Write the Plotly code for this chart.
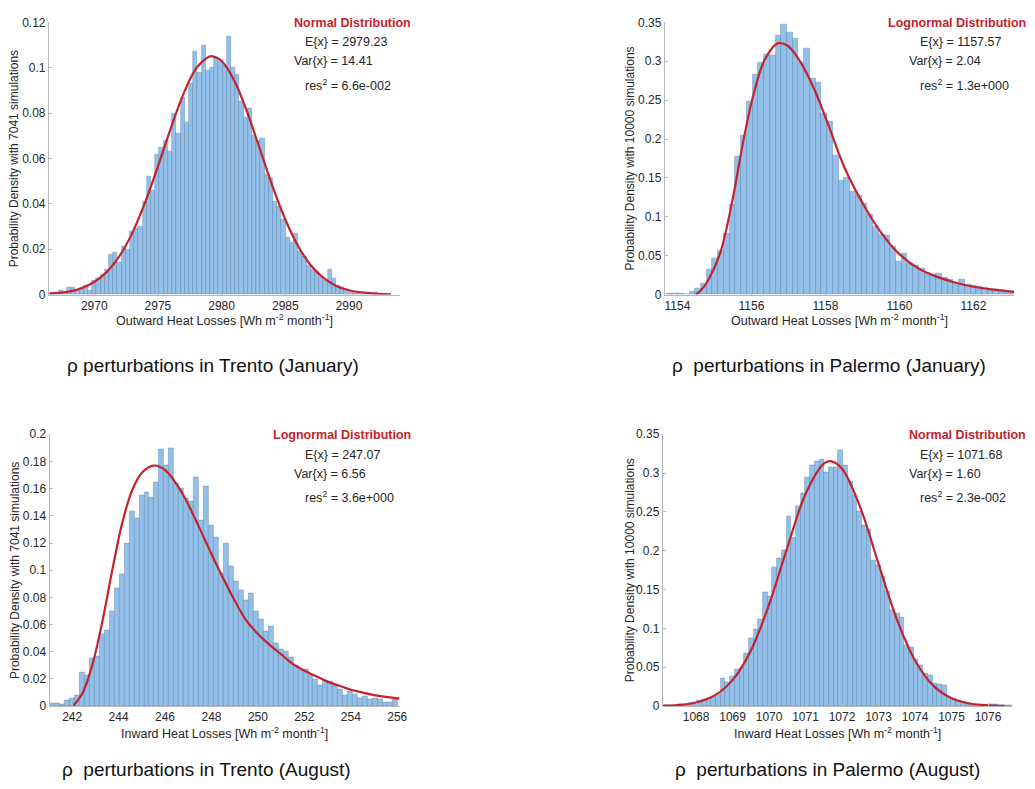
import numpy as np
import plotly.graph_objects as go

# ---------------- data ----------------
# Trento, January (outward heat losses) - histogram
tj_bin_start = 2966.70
tj_bin_width = 0.33
tj_density = [0.001, 0.001, 0.002, 0.001, 0.003, 0.003, 0.002, 0.003, 0.004, 0.002,
              0.006, 0.007, 0.009, 0.011, 0.0175, 0.0185, 0.014, 0.021, 0.020, 0.028,
              0.029, 0.030, 0.041, 0.052, 0.046, 0.062, 0.065, 0.068, 0.063, 0.080,
              0.071, 0.087, 0.076, 0.093, 0.107, 0.098, 0.110, 0.099, 0.100, 0.104,
              0.103, 0.101, 0.114, 0.100, 0.097, 0.085, 0.078, 0.082, 0.070, 0.068,
              0.069, 0.053, 0.051, 0.041, 0.039, 0.033, 0.025, 0.023, 0.027, 0.019,
              0.017, 0.013, 0.011, 0.010, 0.008, 0.006, 0.011, 0.007, 0.004, 0.003,
              0.002, 0.001, 0.0005, 0.0005, 0.0, 0.0005, 0.0, 0.001, 0.0, 0.0]
tj_fit_x = [2966.5, 2968, 2969, 2970, 2971, 2972, 2973, 2974, 2975, 2976, 2977, 2978,
            2979, 2979.23, 2980, 2981, 2982, 2983, 2984, 2985, 2986, 2987, 2988, 2989,
            2990, 2991, 2992, 2993.3]
tj_fit_y = [0.0004, 0.0013, 0.0028, 0.0055, 0.0100, 0.0171, 0.0273, 0.0407, 0.0565,
            0.0732, 0.0884, 0.0997, 0.1049, 0.1051, 0.1030, 0.0943, 0.0805, 0.0642,
            0.0477, 0.0331, 0.0214, 0.0129, 0.0073, 0.0038, 0.0019, 0.0009, 0.0004,
            0.0001]

# Palermo, January (outward heat losses)
pj_bin_start = 1153.78
pj_bin_width = 0.155
pj_density = [0.001, 0.002, 0.001, 0.000, 0.004, 0.008, 0.014, 0.032, 0.046, 0.057,
              0.078, 0.116, 0.177, 0.205, 0.249, 0.283, 0.298, 0.309, 0.307, 0.333,
              0.348, 0.337, 0.329, 0.298, 0.317, 0.278, 0.273, 0.233, 0.223, 0.179,
              0.147, 0.150, 0.132, 0.128, 0.117, 0.103, 0.088, 0.077, 0.076, 0.062,
              0.043, 0.053, 0.040, 0.038, 0.034, 0.028, 0.026, 0.027, 0.022, 0.020,
              0.014, 0.019, 0.013, 0.012, 0.010, 0.009, 0.007, 0.007, 0.005, 0.004,
              0.004]
pj_fit_x = [1154.5, 1154.65, 1154.85, 1155.16, 1155.47, 1155.78, 1156.05, 1156.36,
            1156.71, 1156.98, 1157.34, 1157.69, 1158.05, 1158.5, 1159.0, 1159.5,
            1160.0, 1160.5, 1161.0, 1161.5, 1162.0, 1162.5, 1163.1]
pj_fit_y = [0.0, 0.006, 0.020, 0.054, 0.117, 0.197, 0.256, 0.302, 0.323, 0.320, 0.298,
            0.265, 0.222, 0.165, 0.118, 0.080, 0.052, 0.034, 0.023, 0.0155, 0.010,
            0.0065, 0.0035]

# Trento, August (inward heat losses)
ta_bin_start = 241.14
ta_bin_width = 0.214
ta_density = [0.002, 0.002, 0.0015, 0.004, 0.006, 0.0077, 0.025, 0.023, 0.035, 0.037,
              0.053, 0.056, 0.070, 0.087, 0.097, 0.120, 0.143, 0.138, 0.155, 0.157,
              0.154, 0.165, 0.189, 0.177, 0.190, 0.164, 0.160, 0.153, 0.151, 0.168,
              0.137, 0.162, 0.133, 0.124, 0.098, 0.120, 0.103, 0.092, 0.085, 0.078,
              0.083, 0.070, 0.064, 0.055, 0.059, 0.046, 0.042, 0.040, 0.036, 0.030,
              0.026, 0.027, 0.023, 0.020, 0.015, 0.019, 0.018, 0.015, 0.012, 0.008,
              0.011, 0.009, 0.006, 0.007, 0.005, 0.006, 0.005, 0.003, 0.003, 0.005]
ta_fit_x = [242.03, 242.45, 242.88, 243.31, 243.74, 244.16, 244.59, 245.02, 245.52,
            246.02, 246.73, 247.44, 248.16, 248.94, 249.5, 250.0, 250.5, 251.0, 251.5,
            252.0, 252.5, 253.0, 253.5, 254.0, 254.5, 255.0, 255.5, 256.1]
ta_fit_y = [0.0, 0.0097, 0.031, 0.063, 0.101, 0.135, 0.159, 0.172, 0.177, 0.1735,
            0.157, 0.1326, 0.106, 0.0795, 0.063, 0.053, 0.045, 0.038, 0.031, 0.026,
            0.022, 0.018, 0.015, 0.012, 0.010, 0.008, 0.0068, 0.0055]

# Palermo, August (inward heat losses)
pa_bin_start = 1067.187
pa_bin_width = 0.129
pa_density = [0.0005, 0.001, 0.001, 0.002, 0.002, 0.004, 0.005, 0.007, 0.009, 0.010,
              0.013, 0.015, 0.036, 0.030, 0.038, 0.048, 0.050, 0.068, 0.087, 0.099,
              0.112, 0.147, 0.141, 0.179, 0.190, 0.201, 0.245, 0.218, 0.257, 0.274,
              0.294, 0.310, 0.315, 0.318, 0.301, 0.307, 0.307, 0.330, 0.310, 0.289,
              0.272, 0.251, 0.233, 0.228, 0.188, 0.181, 0.167, 0.148, 0.124, 0.120,
              0.114, 0.078, 0.076, 0.060, 0.052, 0.042, 0.040, 0.029, 0.028, 0.027,
              0.012, 0.010, 0.008, 0.005, 0.004, 0.002, 0.002, 0.001, 0.001, 0.002,
              0.002, 0.0005, 0.001, 0.0005]
pa_fit_x = [1067.1, 1067.5, 1068.0, 1068.5, 1069.0, 1069.5, 1070.0, 1070.5, 1071.0,
            1071.5, 1071.68, 1072.0, 1072.5, 1073.0, 1073.5, 1074.0, 1074.5, 1075.0,
            1075.5, 1076.0, 1076.45]
pa_fit_y = [0.0005, 0.0013, 0.0046, 0.0134, 0.0334, 0.0714, 0.1305, 0.2041, 0.2730,
            0.3122, 0.3154, 0.3055, 0.2557, 0.1831, 0.1120, 0.0587, 0.0263, 0.0101,
            0.0033, 0.0009, 0.0002]

# texts
dist_names = ["Normal Distribution", "Lognormal Distribution",
              "Lognormal Distribution", "Normal Distribution"]
expect_txt = ["E{x} = 2979.23", "E{x} = 1157.57", "E{x} = 247.07", "E{x} = 1071.68"]
var_txt = ["Var{x} = 14.41", "Var{x} = 2.04", "Var{x} = 6.56", "Var{x} = 1.60"]
res_txt = ["6.6e-002", "1.3e+000", "3.6e+000", "2.3e-002"]
ytitles = ["Probability Density with 7041 simulations",
           "Probability Density with 10000 simulations",
           "Probability Density with 7041 simulations",
           "Probability Density with 10000 simulations"]
xtitles = ["Outward Heat Losses [Wh m<sup>-2</sup> month<sup>-1</sup>]",
           "Outward Heat Losses [Wh m<sup>-2</sup> month<sup>-1</sup>]",
           "Inward Heat Losses [Wh m<sup>-2</sup> month<sup>-1</sup>]",
           "Inward Heat Losses [Wh m<sup>-2</sup> month<sup>-1</sup>]"]
captions = ["\u03c1 perturbations in Trento (January)",
            "\u03c1\u00a0 perturbations in Palermo (January)",
            "\u03c1\u00a0 perturbations in Trento (August)",
            "\u03c1\u00a0 perturbations in Palermo (August)"]

x_ticks = [[2970, 2975, 2980, 2985, 2990],
           [1154, 1156, 1158, 1160, 1162],
           [242, 244, 246, 248, 250, 252, 254, 256],
           [1068, 1069, 1070, 1071, 1072, 1073, 1074, 1075, 1076]]
y_ticks = [[0, 0.02, 0.04, 0.06, 0.08, 0.1, 0.12],
           [0, 0.05, 0.1, 0.15, 0.2, 0.25, 0.3, 0.35],
           [0, 0.02, 0.04, 0.06, 0.08, 0.1, 0.12, 0.14, 0.16, 0.18, 0.2],
           [0, 0.05, 0.1, 0.15, 0.2, 0.25, 0.3, 0.35]]
y_ticktext = [["0", "0.02", "0.04", "0.06", "0.08", "0.1", "0.12"],
              ["0", "0.05", "0.1", "0.15", "0.2", "0.25", "0.3", "0.35"],
              ["0", "0.02", "0.04", "0.06", "0.08", "0.1", "0.12", "0.14", "0.16", "0.18", "0.2"],
              ["0", "0.05", "0.1", "0.15", "0.2", "0.25", "0.3", "0.35"]]

# ---------------- layout geometry (pixels) ----------------
W, H = 1035, 789
FONT = "Liberation Sans, Arial, sans-serif"
BAR_FILL = "#92c0e8"
BAR_EDGE = "rgba(80,118,165,0.75)"
RED = "#c4232b"
AXIS_GREY = "#b8b8b8"
TXT = "#262626"

def fx(p):
    return p / W

def fy(p):
    return 1 - p / H

panels = [
    dict(ox=0, oy=0, xd=(49.3, 403.3), yd=(15.7, 292.7), xr=(2966.44, 2994.02), yr=(0, 0.12),
         bs=tj_bin_start, bw=tj_bin_width, dens=tj_density, fx_=tj_fit_x, fy_=tj_fit_y,
         cap=(215, 365)),
    dict(ox=620, oy=0, xd=(670, 1022), yd=(15.7, 292.7), xr=(1153.66, 1163.1), yr=(0, 0.35),
         bs=pj_bin_start, bw=pj_bin_width, dens=pj_density, fx_=pj_fit_x, fy_=pj_fit_y,
         cap=(835, 365)),
    dict(ox=0, oy=420, xd=(50, 402.7), yd=(435, 711.7), xr=(241.03, 256.1), yr=(0, 0.2),
         bs=ta_bin_start, bw=ta_bin_width, dens=ta_density, fx_=ta_fit_x, fy_=ta_fit_y,
         cap=(208, 776)),
    dict(ox=620, oy=420, xd=(668, 1020), yd=(435, 711.7), xr=(1067.09, 1076.66), yr=(0, 0.35),
         bs=pa_bin_start, bw=pa_bin_width, dens=pa_density, fx_=pa_fit_x, fy_=pa_fit_y,
         cap=(834, 776)),
]

fig = go.Figure()
annotations = []
layout_axes = {}

for i, p in enumerate(panels):
    n = i + 1
    xa = "x" if n == 1 else f"x{n}"
    ya = "y" if n == 1 else f"y{n}"
    centers = p["bs"] + p["bw"] * np.arange(len(p["dens"]))
    fig.add_trace(go.Bar(x=centers, y=p["dens"], width=p["bw"], xaxis=xa, yaxis=ya,
                         marker=dict(color=BAR_FILL, line=dict(color=BAR_EDGE, width=0.5)),
                         hoverinfo="x+y"))
    fig.add_trace(go.Scatter(x=p["fx_"], y=p["fy_"], mode="lines", xaxis=xa, yaxis=ya,
                             line=dict(color=RED, width=2.2, shape="spline", smoothing=1.0),
                             hoverinfo="skip"))
    common = dict(showline=True, linecolor=AXIS_GREY, linewidth=1, showgrid=False,
                  zeroline=False, ticks="inside", ticklen=3, tickcolor=AXIS_GREY,
                  tickfont=dict(family=FONT, size=12, color=TXT), fixedrange=True)
    layout_axes["xaxis" if n == 1 else f"xaxis{n}"] = dict(
        domain=[fx(p["xd"][0]), fx(p["xd"][1])], range=list(p["xr"]), anchor=ya,
        tickvals=x_ticks[i], ticktext=[str(v) for v in x_ticks[i]], **common)
    layout_axes["yaxis" if n == 1 else f"yaxis{n}"] = dict(
        domain=[fy(p["yd"][1]), fy(p["yd"][0])], range=list(p["yr"]), anchor=xa,
        tickvals=y_ticks[i], ticktext=y_ticktext[i], **common)

    ox, oy = p["ox"], p["oy"]
    txt_font = dict(family=FONT, size=12.5, color=TXT)
    annotations += [
        dict(text=f"<b>{dist_names[i]}</b>", x=fx(ox + 416), y=fy(oy + 16), xanchor="right",
             yanchor="middle", font=dict(family=FONT, size=12.5, color=RED)),
        dict(text=expect_txt[i], x=fx(ox + 305), y=fy(oy + 36), xanchor="left",
             yanchor="middle", font=txt_font),
        dict(text=var_txt[i], x=fx(ox + 294), y=fy(oy + 55), xanchor="left",
             yanchor="middle", font=txt_font),
        dict(text=f"res<sup>2</sup> = {res_txt[i]}", x=fx(ox + 305), y=fy(oy + 79),
             xanchor="left", yanchor="middle", font=txt_font),
        dict(text=ytitles[i], x=fx(ox + 15), y=fy((p["yd"][0] + p["yd"][1]) / 2),
             textangle=-90, xanchor="center", yanchor="middle",
             font=dict(family=FONT, size=12, color=TXT)),
        dict(text=xtitles[i], x=fx((p["xd"][0] + p["xd"][1]) / 2), y=fy(oy + 319),
             xanchor="center", yanchor="middle",
             font=dict(family=FONT, size=12.5, color=TXT)),
        dict(text=captions[i], x=fx(p["cap"][0]), y=fy(p["cap"][1]), xanchor="center",
             yanchor="middle", font=dict(family=FONT, size=19, color="#111111")),
    ]

for a in annotations:
    a.update(xref="paper", yref="paper", showarrow=False)

fig.update_layout(width=W, height=H, margin=dict(l=0, r=0, t=0, b=0),
                  paper_bgcolor="white", plot_bgcolor="white", showlegend=False,
                  bargap=0, barmode="overlay", annotations=annotations, **layout_axes)

fig.write_html("out.html")
